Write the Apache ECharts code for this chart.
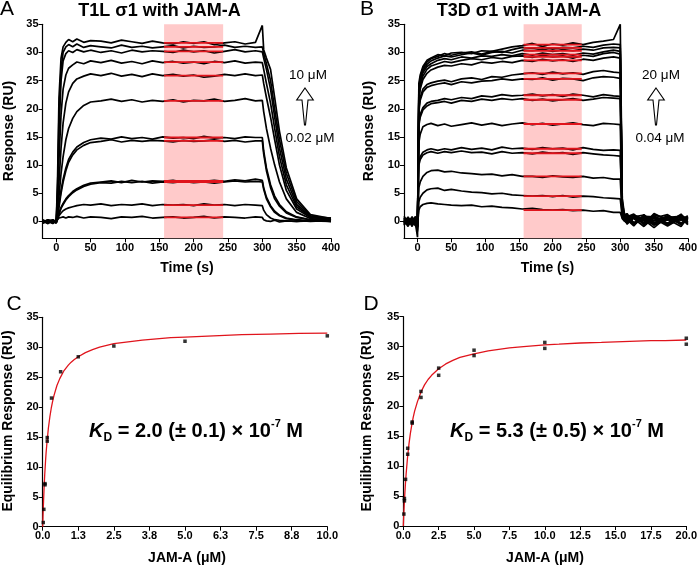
<!DOCTYPE html>
<html><head><meta charset="utf-8">
<script src="https://cdn.jsdelivr.net/npm/echarts@6/dist/echarts.min.js"></script>
<style>html,body{margin:0;padding:0;background:#fff}#c{width:700px;height:567px}</style>
</head><body><div id="c"></div>
<script>
// ---------- Tick labels ----------
const timeTicks = [0,50,100,150,200,250,300,350,400];
const respTicks = [0,5,10,15,20,25,30,35];

// ---------- Panel A: T1L sigma1 sensorgrams (time s, response RU) ----------
const tA = [-20,-12,-5,0,2,4,7,10,14,18, 24,30,40,50,65,80,95,110,125,140, 155,170,185,200,215,230,245,260,275,290, 300,302,306,312,318,325,335,350,370,400];
const tracesA = [
 [0.1,-0.3,0.2,-0.2, 8,22,29,31,31.8,32.3, 31.9,32.4,31.8,32.1,32.0,31.7,32.2,31.9,31.6,32.0, 31.7,31.5,31.9,31.6,31.9,31.4,31.7,31.9,31.5,31.8, 34.8,30.5,29.0,27.0,22.0,16.0,9.5,4.0,1.2,0.5],
 [-0.2,0.3,-0.4,0.1, 6,19,27,30,31.0,31.4, 31.0,31.5,30.9,31.2,31.0,30.8,31.3,30.9,31.1,30.8, 31.0,31.2,30.8,31.1,30.9,31.0,31.3,30.9,31.1,30.9, 31.0,29.8,28.0,25.0,20.0,14.5,8.5,3.5,1.0,0.3],
 [0.3,-0.1,0.0,-0.3, 5,16,25,28.5,29.8,30.3, 30.0,30.5,30.1,30.4,30.0,30.3,29.9,30.4,30.1,30.3, 30.2,30.0,30.4,30.1,30.3,29.9,30.2,30.5,30.1,30.3, 30.1,29.0,27.0,23.5,18.5,13.0,7.5,3.0,0.9,0.6],
 [-0.1,0.2,-0.3,0.2, 3,11,19,23.5,26,27.2, 27.8,28.3,28.0,28.5,28.2,28.6,28.1,28.4,28.0,28.5, 28.2,28.4,28.1,28.3,28.0,28.4,28.2,28.5,28.1,28.3, 28.2,27.0,24.5,21.0,16.5,11.5,6.5,2.6,0.8,0.2],
 [0.2,-0.2,0.1,-0.1, 2,7,13,17.5,21,23, 24.5,25.3,25.8,26.2,25.9,26.3,25.8,26.1,25.7,26.2, 25.9,26.1,25.8,26.0,25.6,25.8,26.1,25.9,26.2,25.9, 26.0,24.5,22.0,18.5,14.5,10.0,5.5,2.2,0.7,0.4],
 [-0.3,0.1,0.3,-0.2, 1.5,4.5,8.5,11.5,14.5,16.5, 18.3,19.5,20.6,21.2,21.4,21.7,21.3,21.6,21.2,21.5, 21.3,21.6,21.2,21.5,21.4,21.7,21.3,21.5,21.8,21.4, 21.5,19.5,16.5,13.0,10.0,7.0,4.0,1.6,0.5,0.1],
 [0.1,-0.4,0.2,0.0, 1,3,5.5,7.5,9.5,11, 12.3,13.2,14.0,14.5,14.8,14.6,15.0,14.7,14.9,14.6, 15.0,14.8,14.9,14.7,15.1,14.8,14.9,14.7,15.0,14.9, 14.9,12.5,9.5,6.5,4.5,3.0,1.7,0.8,0.3,0.6],
 [-0.2,0.2,-0.1,0.3, 0.8,2.5,5,7,9,10.5, 11.8,12.7,13.5,14.0,14.2,14.5,14.1,14.4,14.2,14.4, 14.3,14.1,14.4,14.2,14.3,14.5,14.2,14.4,14.1,14.3, 14.3,12.0,9.0,6.0,4.0,2.7,1.5,0.7,0.3,0.0],
 [0.2,-0.1,-0.3,0.1, 0.5,1.5,2.5,3.2,4.0,4.6, 5.3,5.8,6.4,6.8,7.0,7.2,6.9,7.3,7.0,7.2, 7.1,7.3,7.0,7.2,7.1,7.3,7.1,7.4,7.2,7.5, 7.3,6.0,4.3,2.8,1.8,1.1,0.6,0.3,0.1,0.4],
 [-0.1,0.3,0.0,-0.2, 0.4,1.3,2.3,3.0,3.8,4.4, 5.1,5.6,6.2,6.6,6.9,6.8,7.1,6.9,7.1,6.8, 7.0,6.9,7.1,6.9,7.0,6.8,7.0,7.2,7.0,7.1, 7.0,5.7,4.0,2.6,1.6,1.0,0.5,0.2,0.0,0.2],
 [0.0,-0.2,0.2,-0.3, 0.4,1.0,1.5,1.9,2.2,2.4, 2.6,2.8,3.0,2.9,3.1,2.8,3.0,2.9,3.1,2.8, 3.0,2.9,3.0,2.8,3.1,2.9,3.0,2.8,3.0,2.9, 2.8,2.0,1.2,0.6,0.3,0.2,0.1,0.0,0.1,0.0],
 [-0.3,0.1,-0.2,0.2, 0.3,0.6,0.7,0.8,0.6,0.8, 0.7,0.9,0.6,0.8,0.7,0.5,0.8,0.7,0.9,0.6, 0.7,0.8,0.6,0.7,0.9,0.6,0.8,0.7,0.6,0.8, 0.7,0.3,0.1,0.0,0.2,-0.1,0.1,0.0,0.2,0.0]
];
const eqLevelsA = [31.7,31.0,30.2,28.3,25.9,21.4,14.9,14.3,7.2,7.0,2.9,0.7];

// ---------- Panel B: T3D sigma1 sensorgrams ----------
const tB = [-20,-14,-8,-3,0,2,4,8,14,20, 30,40,50,65,80,95,110,125,140,155, 170,185,200,215,230,245,260,275,290,300, 303,306,310,320,335,350,370,390,400];
const tracesB = [
 [0.5,-0.6,0.8,-0.4,-2.8, 24.5,26.0,27.5,28.6,29.0, 29.6,29.4,29.9,30.0,29.8,30.3,30.2,30.6,31.0,31.2, 31.6,31.1,31.5,31.3,31.7,31.4,31.8,32.0,32.3,35.0, 4.0,1.5,0.8,1.3,-0.5,1.4,0.2,1.1,0.4],
 [-0.3,0.7,-0.5,0.9,-1.5, 23.5,25.5,27.2,28.3,28.9, 29.3,29.8,29.5,29.9,30.1,29.7,30.2,30.0,30.5,30.9, 30.7,31.0,30.6,30.9,30.8,31.1,30.9,31.3,31.5,31.4, 3.5,1.2,0.3,-0.8,1.2,-0.4,1.0,-0.6,0.8],
 [0.9,-0.2,0.3,-0.7,-1.0, 23.0,25.0,26.8,27.9,28.5, 29.0,29.4,29.2,29.6,29.9,29.5,30.0,30.2,29.9,30.4, 30.3,30.6,30.2,30.5,30.3,30.6,30.4,30.8,30.9,30.8, 3.0,0.8,1.1,0.5,-0.9,0.7,-0.3,1.3,-0.2],
 [-0.7,0.4,-0.9,0.5,-0.5, 22.5,24.5,26.4,27.5,28.0, 28.6,28.9,28.7,29.2,29.0,29.4,29.3,29.6,29.4,29.8, 29.5,29.9,29.6,29.8,29.5,29.9,29.7,30.1,30.4,30.2, 2.8,1.0,-0.4,1.2,0.3,-1.1,0.9,0.2,1.0],
 [0.2,-0.9,0.6,-0.2,-1.8, 22.0,24.0,25.8,27.0,27.6, 28.0,28.4,28.2,28.6,28.9,28.7,29.1,28.9,29.3,29.4, 29.1,29.5,29.2,29.4,29.0,29.5,29.3,29.8,30.0,29.7, 2.5,0.6,1.4,-0.3,0.8,0.5,-0.8,0.6,-0.5],
 [-0.4,0.3,-0.1,0.6,-0.8, 21.5,23.5,25.2,26.3,26.9, 27.4,27.7,27.6,28.0,27.8,28.3,28.1,28.4,28.2,28.6, 28.4,28.8,28.5,28.7,28.4,28.8,28.6,29.0,29.2,29.0, 2.2,0.4,0.9,1.0,-0.4,1.2,0.4,-0.9,0.7],
 [0.6,-0.5,0.2,-0.3,-0.6, 20.0,22.0,23.5,24.3,24.6, 24.9,25.1,24.8,25.3,25.5,25.2,25.7,25.6,26.0,26.2, 26.4,26.1,26.5,26.2,26.4,26.1,26.6,26.8,26.5,26.4, 2.0,0.9,-0.5,0.8,1.1,-0.2,0.7,0.9,-0.4],
 [-0.2,0.8,-0.7,0.1,-0.9, 19.5,21.5,23.0,23.8,24.1, 24.4,24.6,24.3,24.8,24.6,24.9,25.0,25.3,25.1,25.3, 25.2,25.5,25.1,25.4,25.3,25.0,25.5,25.7,25.6,25.4, 1.8,0.5,0.7,-0.6,0.9,0.8,-0.5,1.0,0.3],
 [0.4,-0.3,0.7,-0.6,-0.4, 17.5,19.0,20.2,21.0,21.3, 21.5,21.8,21.6,22.0,21.8,22.3,22.1,22.5,22.3,22.4, 22.6,22.3,22.5,22.2,22.6,22.4,22.1,22.5,22.3,22.2, 1.6,0.7,0.2,1.1,-0.6,0.6,1.2,-0.3,0.6],
 [-0.6,0.2,-0.3,0.8,-1.2, 17.0,18.5,19.8,20.5,20.9, 21.1,21.3,21.0,21.5,21.3,21.7,21.5,21.8,21.6,21.8, 21.5,21.7,21.4,21.6,21.8,21.5,21.7,22.0,21.9,21.8, 1.5,0.3,0.9,-0.2,0.5,-0.7,0.4,0.7,-0.6],
 [0.3,-0.7,0.5,-0.1,-0.7, 14.0,15.5,16.8,17.2,17.4, 17.0,17.3,16.9,17.2,17.5,17.1,17.4,17.0,17.3,17.5, 17.2,17.4,17.1,17.3,17.5,17.2,17.0,17.4,17.3,17.2, 1.2,0.2,0.6,0.9,-0.3,1.0,-0.4,0.5,0.8],
 [-0.5,0.6,-0.2,0.4,-0.3, 10.5,11.5,12.3,12.7,12.9, 12.6,12.9,12.7,13.1,12.8,13.0,12.7,13.2,12.9,13.0, 12.8,13.1,12.9,13.0,12.7,13.1,12.8,12.6,12.7,12.6, 1.0,0.4,-0.3,0.7,0.4,0.2,0.9,-0.5,0.4],
 [0.1,-0.4,0.8,-0.5,-1.0, 10.0,11.0,11.8,12.2,12.4, 12.1,12.4,12.2,12.5,12.2,12.3,12.0,12.4,12.1,12.2, 12.0,12.3,12.1,12.2,11.9,12.2,12.0,11.8,11.7,11.6, 0.9,0.1,0.5,-0.4,0.8,-0.5,0.3,0.9,-0.1],
 [0.7,-0.2,0.3,-0.8,-0.5, 6.0,7.0,8.0,8.7,9.0, 9.1,8.8,8.9,8.6,8.5,8.3,8.4,8.1,8.3,8.0, 8.0,7.8,8.1,7.9,7.8,8.0,7.7,7.8,7.5,7.5, 0.8,0.3,0.0,0.6,-0.2,0.8,-0.6,0.4,0.6],
 [-0.3,0.5,-0.6,0.2,-0.9, 3.5,4.3,5.0,5.6,5.8, 5.9,5.5,5.7,5.4,5.2,5.1,4.9,5.0,4.7,4.6, 4.5,4.6,4.4,4.6,4.3,4.5,4.4,4.2,4.1,4.0, 0.6,0.2,0.7,-0.5,0.6,0.1,0.8,-0.4,0.2],
 [0.2,-0.5,0.4,-0.3,-0.6, 2.0,2.6,3.0,3.2,3.3, 3.1,3.0,2.9,2.8,2.9,2.6,2.7,2.5,2.4,2.2, 2.3,2.1,2.0,2.1,1.9,2.0,1.8,1.9,1.6,1.6, 0.5,0.1,-0.3,0.6,0.1,-0.4,0.7,0.3,-0.2]
];
const eqLevelsB = [31.4,30.8,30.3,29.6,29.2,28.6,26.3,25.3,22.4,21.6,17.3,12.9,12.1,8.0,4.5,2.0];
const eqWindow = [157, 243];

// ---------- Panel C: T1L equilibrium ----------
const concC = [0.02,0.04,0.08,0.08,0.16,0.16,0.31,0.63,1.25,2.5,5,10];
const respC = [0.7,2.9,7.0,7.2,14.3,14.9,21.5,25.9,28.4,30.2,31.0,31.9];
const fitXC = [0,0.01,0.02,0.03,0.05,0.07,0.1,0.12,0.15,0.2,0.25,0.3,0.35,0.4,0.5,0.6,0.75,0.9,1,1.1,1.25,1.5,1.75,2,2.5,3,3.5,4,4.5,5,6,7,8,9,10];
const fitYC = [0,1.57,3.0,4.3,6.6,8.6,11.0,12.4,14.1,16.5,18.3,19.8,21.0,22.0,23.6,24.75,26.1,27.0,27.5,27.9,28.4,29.1,29.6,30.0,30.6,30.9,31.2,31.4,31.6,31.7,31.9,32.1,32.2,32.3,32.35];

// ---------- Panel D: T3D equilibrium ----------
const concD = [0.04,0.08,0.08,0.16,0.31,0.31,0.63,0.63,1.25,1.25,2.5,2.5,5,5,10,10,20,20];
const respD = [2.0,4.6,4.2,7.8,13.0,12.0,17.4,17.2,22.5,21.5,26.4,25.2,29.4,28.5,30.7,29.7,31.4,30.4];
const fitXD = [0,0.02,0.05,0.1,0.15,0.2,0.3,0.4,0.5,0.6,0.7,0.8,1,1.25,1.5,1.75,2,2.5,3,3.5,4,5,6,7.5,8.5,10,11,12.5,14,15,17.5,18.5,20];
const fitYD = [0,1.16,2.75,5.06,7.04,8.7,11.5,13.7,15.5,16.9,18.15,19.2,20.8,22.4,23.6,24.5,25.2,26.3,27.1,27.7,28.2,28.8,29.3,29.8,30.0,30.3,30.4,30.6,30.7,30.8,31.0,31.0,31.1];

// ---------- Build chart ----------
const F = "'Liberation Sans', Arial, Helvetica, sans-serif";
const chart = echarts.init(document.getElementById('c'));
const zip = (xs, ys) => xs.map((x, i) => [x, ys[i]]);

const axLine = {show: true, onZero: false, lineStyle: {color: '#000', width: 1.2}};
const lab = {fontWeight: 'bold', fontSize: 11, color: '#000', fontFamily: F};
function tAxis(grid, ticks, min, max) {
  return {gridIndex: grid, type: 'value', min: min, max: max,
    axisLine: axLine, splitLine: {show: false},
    axisTick: {show: true, customValues: ticks, length: 4, lineStyle: {color: '#000', width: 1}},
    axisLabel: Object.assign({customValues: ticks, margin: 4}, lab)};
}
function eqXAxis(grid, max, interval) {
  return {gridIndex: grid, type: 'value', min: 0, max: max, interval: interval,
    axisLine: axLine, splitLine: {show: false},
    axisTick: {show: true, length: 4, lineStyle: {color: '#000'}},
    axisLabel: Object.assign({margin: 4, formatter: v => v.toFixed(1)}, lab)};
}
function eqYAxis(grid) {
  return {gridIndex: grid, type: 'value', min: 0, max: 35, interval: 5,
    axisLine: axLine, splitLine: {show: false},
    axisTick: {show: true, length: 4, lineStyle: {color: '#000'}},
    axisLabel: Object.assign({margin: 4}, lab)};
}

const series = [];
function addPanel(xi, times, traces, levels) {
  series.push({type: 'line', xAxisIndex: xi, yAxisIndex: xi, data: [], z: 0, silent: true,
    markArea: {silent: true, itemStyle: {color: '#ffcaca'}, data: [[{xAxis: eqWindow[0]}, {xAxis: eqWindow[1]}]]}});
  traces.forEach(tr => series.push({type: 'line', xAxisIndex: xi, yAxisIndex: xi, data: zip(times, tr),
    showSymbol: false, symbol: 'none', z: 2, lineStyle: {color: '#000', width: 1.7}}));
  levels.forEach(v => series.push({type: 'line', xAxisIndex: xi, yAxisIndex: xi,
    data: [[eqWindow[0], v], [eqWindow[1], v]], symbol: 'none', z: 3, lineStyle: {color: '#e0141c', width: 1.8}}));
}
addPanel(0, tA, tracesA, eqLevelsA);
addPanel(1, tB, tracesB, eqLevelsB);
series.push({type: 'line', xAxisIndex: 2, yAxisIndex: 2, data: zip(fitXC, fitYC),
  symbol: 'none', lineStyle: {color: '#e0141c', width: 1.3}, z: 2});
series.push({type: 'scatter', xAxisIndex: 2, yAxisIndex: 2, data: zip(concC, respC), symbol: 'rect', symbolSize: 3.5,
  itemStyle: {color: '#000'}, z: 3});
series.push({type: 'line', xAxisIndex: 3, yAxisIndex: 3, data: zip(fitXD, fitYD),
  symbol: 'none', lineStyle: {color: '#e0141c', width: 1.3}, z: 2});
series.push({type: 'scatter', xAxisIndex: 3, yAxisIndex: 3, data: zip(concD, respD), symbol: 'rect', symbolSize: 3.5,
  itemStyle: {color: '#000'}, z: 3});

function txt(x, y, s, size, bold, rot, extra) {
  return {type: 'text', x: x, y: y, rotation: rot || 0, z: 10,
    style: Object.assign({text: s, fontSize: size, fontWeight: bold ? 'bold' : 'normal', fontFamily: F,
      fill: '#000', align: 'center', verticalAlign: 'middle'}, extra || {})};
}
function arrow(cx, top) {
  return {type: 'polygon', z: 10, shape: {points: [[cx, top], [cx + 8.3, top + 12], [cx + 3, top + 12], [cx + 0.5, top + 37],
    [cx - 0.5, top + 37], [cx - 3, top + 12], [cx - 8.3, top + 12]]},
    style: {fill: '#fff', stroke: '#000', lineWidth: 1.1}};
}
const kdRich = {
  k: {fontSize: 20, fontWeight: 'bold', fontStyle: 'italic', fontFamily: F, lineHeight: 26, verticalAlign: 'middle'},
  n: {fontSize: 20, fontWeight: 'bold', fontFamily: F, lineHeight: 26, verticalAlign: 'middle'},
  sub: {fontSize: 12, fontWeight: 'bold', fontFamily: F, lineHeight: 12, verticalAlign: 'bottom'},
  sup: {fontSize: 11, fontWeight: 'bold', fontFamily: F, lineHeight: 11, verticalAlign: 'top'}
};
const graphics = [
  txt(7, 9, 'A', 21, false), txt(367, 9, 'B', 21, false),
  txt(14, 304, 'C', 21, false), txt(371, 304, 'D', 21, false),
  txt(159.5, 11, 'T1L σ1 with JAM-A', 18, true), txt(519, 11, 'T3D σ1 with JAM-A', 18, true),
  txt(9, 131, 'Response (RU)', 14, true, Math.PI / 2), txt(369, 131, 'Response (RU)', 14, true, Math.PI / 2),
  txt(187, 268, 'Time (s)', 14, true), txt(547.5, 268, 'Time (s)', 14, true),
  txt(8.5, 421, 'Equilibrium Response (RU)', 14, true, Math.PI / 2), txt(367, 421, 'Equilibrium Response (RU)', 14, true, Math.PI / 2),
  txt(187, 558, 'JAM-A (μM)', 14, true), txt(545, 558, 'JAM-A (μM)', 14, true),
  txt(308, 75, '10 μM', 13.5, false), txt(310, 138, '0.02 μM', 13.5, false),
  txt(661, 75, '20 μM', 13.5, false), txt(660, 138, '0.04 μM', 13.5, false),
  arrow(305, 88), arrow(656, 88),
  {type: 'text', x: 196, y: 431, z: 10, style: {text: '{k|K}{sub|D}{n| = 2.0 (± 0.1) × 10}{sup|-7}{n| M}', rich: kdRich,
    align: 'center', verticalAlign: 'middle', fill: '#000'}},
  {type: 'text', x: 557, y: 431, z: 10, style: {text: '{k|K}{sub|D}{n| = 5.3 (± 0.5) × 10}{sup|-7}{n| M}', rich: kdRich,
    align: 'center', verticalAlign: 'middle', fill: '#000'}}
];

chart.setOption({
  animation: false,
  backgroundColor: '#fff',
  grid: [
    {left: 42.5, top: 24.3, width: 288.5, height: 214},
    {left: 404, top: 24.3, width: 287, height: 214},
    {left: 42.7, top: 317.3, width: 284.6, height: 209.4},
    {left: 403.3, top: 316.7, width: 284.4, height: 209.3}
  ],
  xAxis: [tAxis(0, timeTicks, -20, 400), tAxis(1, timeTicks, -20, 400), eqXAxis(2, 10, 1.25), eqXAxis(3, 20, 2.5)],
  yAxis: [tAxis(0, respTicks, -3, 35), tAxis(1, respTicks, -3, 35), eqYAxis(2), eqYAxis(3)],
  series: series,
  graphic: graphics
});
</script></body></html>
